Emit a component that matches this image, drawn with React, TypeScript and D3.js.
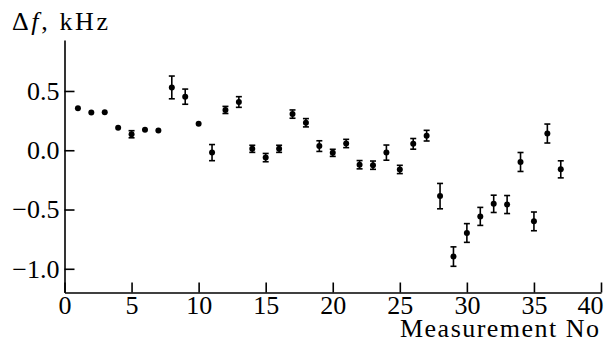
import React, { useEffect, useRef } from "react";
import * as d3 from "d3";

// measurement numbers, frequency shift (kHz) and its error
const measurementNo = [
  1, 2, 3, 4, 5, 6, 7, 8, 9, 10, 11, 12, 13, 14, 15, 16, 17, 18, 19,
  20, 21, 22, 23, 24, 25, 26, 27, 28, 29, 30, 31, 32, 33, 34, 35, 36, 37,
];
const deltaF = [
  0.355, 0.318, 0.32, 0.19, 0.135, 0.172, 0.167, 0.53, 0.452, 0.223,
  -0.02, 0.34, 0.407, 0.012, -0.062, 0.012, 0.305, 0.232, 0.035, -0.022,
  0.057, -0.122, -0.126, -0.02, -0.162, 0.054, 0.123, -0.387, -0.897,
  -0.698, -0.558, -0.452, -0.458, -0.099, -0.6, 0.141, -0.161,
];
const deltaErr = [
  0.015, 0.015, 0.015, 0.015, 0.03, 0.015, 0.015, 0.096, 0.064, 0.015,
  0.068, 0.03, 0.045, 0.03, 0.035, 0.03, 0.035, 0.035, 0.045, 0.03,
  0.035, 0.035, 0.035, 0.064, 0.035, 0.045, 0.045, 0.107, 0.082,
  0.079, 0.076, 0.073, 0.076, 0.08, 0.079, 0.08, 0.072,
];
const xTicks = [0, 5, 10, 15, 20, 25, 30, 35, 40];
const yTicks = [-1.0, -0.5, 0.0, 0.5];

const App = () => {
  const ref = useRef<SVGSVGElement>(null);

  useEffect(() => {
    const svg = d3.select(ref.current);
    svg.selectAll("*").remove();

    const font = "'Liberation Serif', 'Times New Roman', serif";
    const fs = 26;
    const x = d3.scaleLinear().domain([0, 40]).range([64.5, 601]);
    const y = d3.scaleLinear().domain([-1.2, 0.93]).range([292.5, 40]);

    const data = measurementNo.map((n, i) => ({ n, v: deltaF[i], e: deltaErr[i] }));

    // axes, ticks pointing inwards
    const xAxis = svg
      .append("g")
      .attr("transform", `translate(0,${y(-1.2)})`)
      .call(
        d3.axisBottom(x).tickValues(xTicks).tickSizeInner(-10).tickSizeOuter(0)
          .tickPadding(3).tickFormat(d3.format("d"))
      );
    const yAxis = svg
      .append("g")
      .attr("transform", `translate(${x(0)},0)`)
      .call(
        d3.axisLeft(y).tickValues(yTicks).tickSizeInner(-10).tickSizeOuter(0)
          .tickPadding(5).tickFormat(d3.format(".1f"))
      );
    [xAxis, yAxis].forEach((g) => {
      g.selectAll("path, line").attr("stroke", "#000").attr("stroke-width", 1.6);
      g.selectAll("text").attr("font-family", font).attr("font-size", fs).attr("fill", "#000");
    });
    // last label kept inside the picture
    xAxis
      .selectAll<SVGTextElement, number>("text")
      .filter((d) => d === 40)
      .attr("text-anchor", "end")
      .attr("x", 2);

    // error bars
    const bars = svg.append("g").attr("stroke", "#000").attr("stroke-width", 1.6);
    data.forEach((d) => {
      const cx = x(d.n);
      const y0 = y(d.v - d.e);
      const y1 = y(d.v + d.e);
      bars.append("line").attr("x1", cx).attr("x2", cx).attr("y1", y0).attr("y2", y1);
      if (d.e > 0.02) {
        bars.append("line").attr("x1", cx - 3).attr("x2", cx + 3).attr("y1", y0).attr("y2", y0);
        bars.append("line").attr("x1", cx - 3).attr("x2", cx + 3).attr("y1", y1).attr("y2", y1);
      }
    });

    svg
      .append("g")
      .selectAll("circle")
      .data(data)
      .join("circle")
      .attr("cx", (d) => x(d.n))
      .attr("cy", (d) => y(d.v))
      .attr("r", 3)
      .attr("fill", "#000");

    // axis titles
    const yt = svg
      .append("text")
      .attr("x", 12)
      .attr("y", 30)
      .attr("font-family", font)
      .attr("font-size", fs)
      .attr("textLength", 96)
      .attr("lengthAdjust", "spacing")
      .attr("fill", "#000");
    yt.append("tspan").text("Δ");
    yt.append("tspan").attr("font-style", "italic").text("f");
    yt.append("tspan").text(", kHz");

    svg
      .append("text")
      .attr("x", 400)
      .attr("y", 337)
      .attr("font-family", font)
      .attr("font-size", fs)
      .attr("textLength", 199)
      .attr("lengthAdjust", "spacing")
      .attr("fill", "#000")
      .text("Measurement No");
  }, []);

  return (
    <svg
      ref={ref}
      width={606}
      height={346}
      style={{ position: "absolute", left: 0, top: 0, background: "#fff" }}
    />
  );
};

export default App;
